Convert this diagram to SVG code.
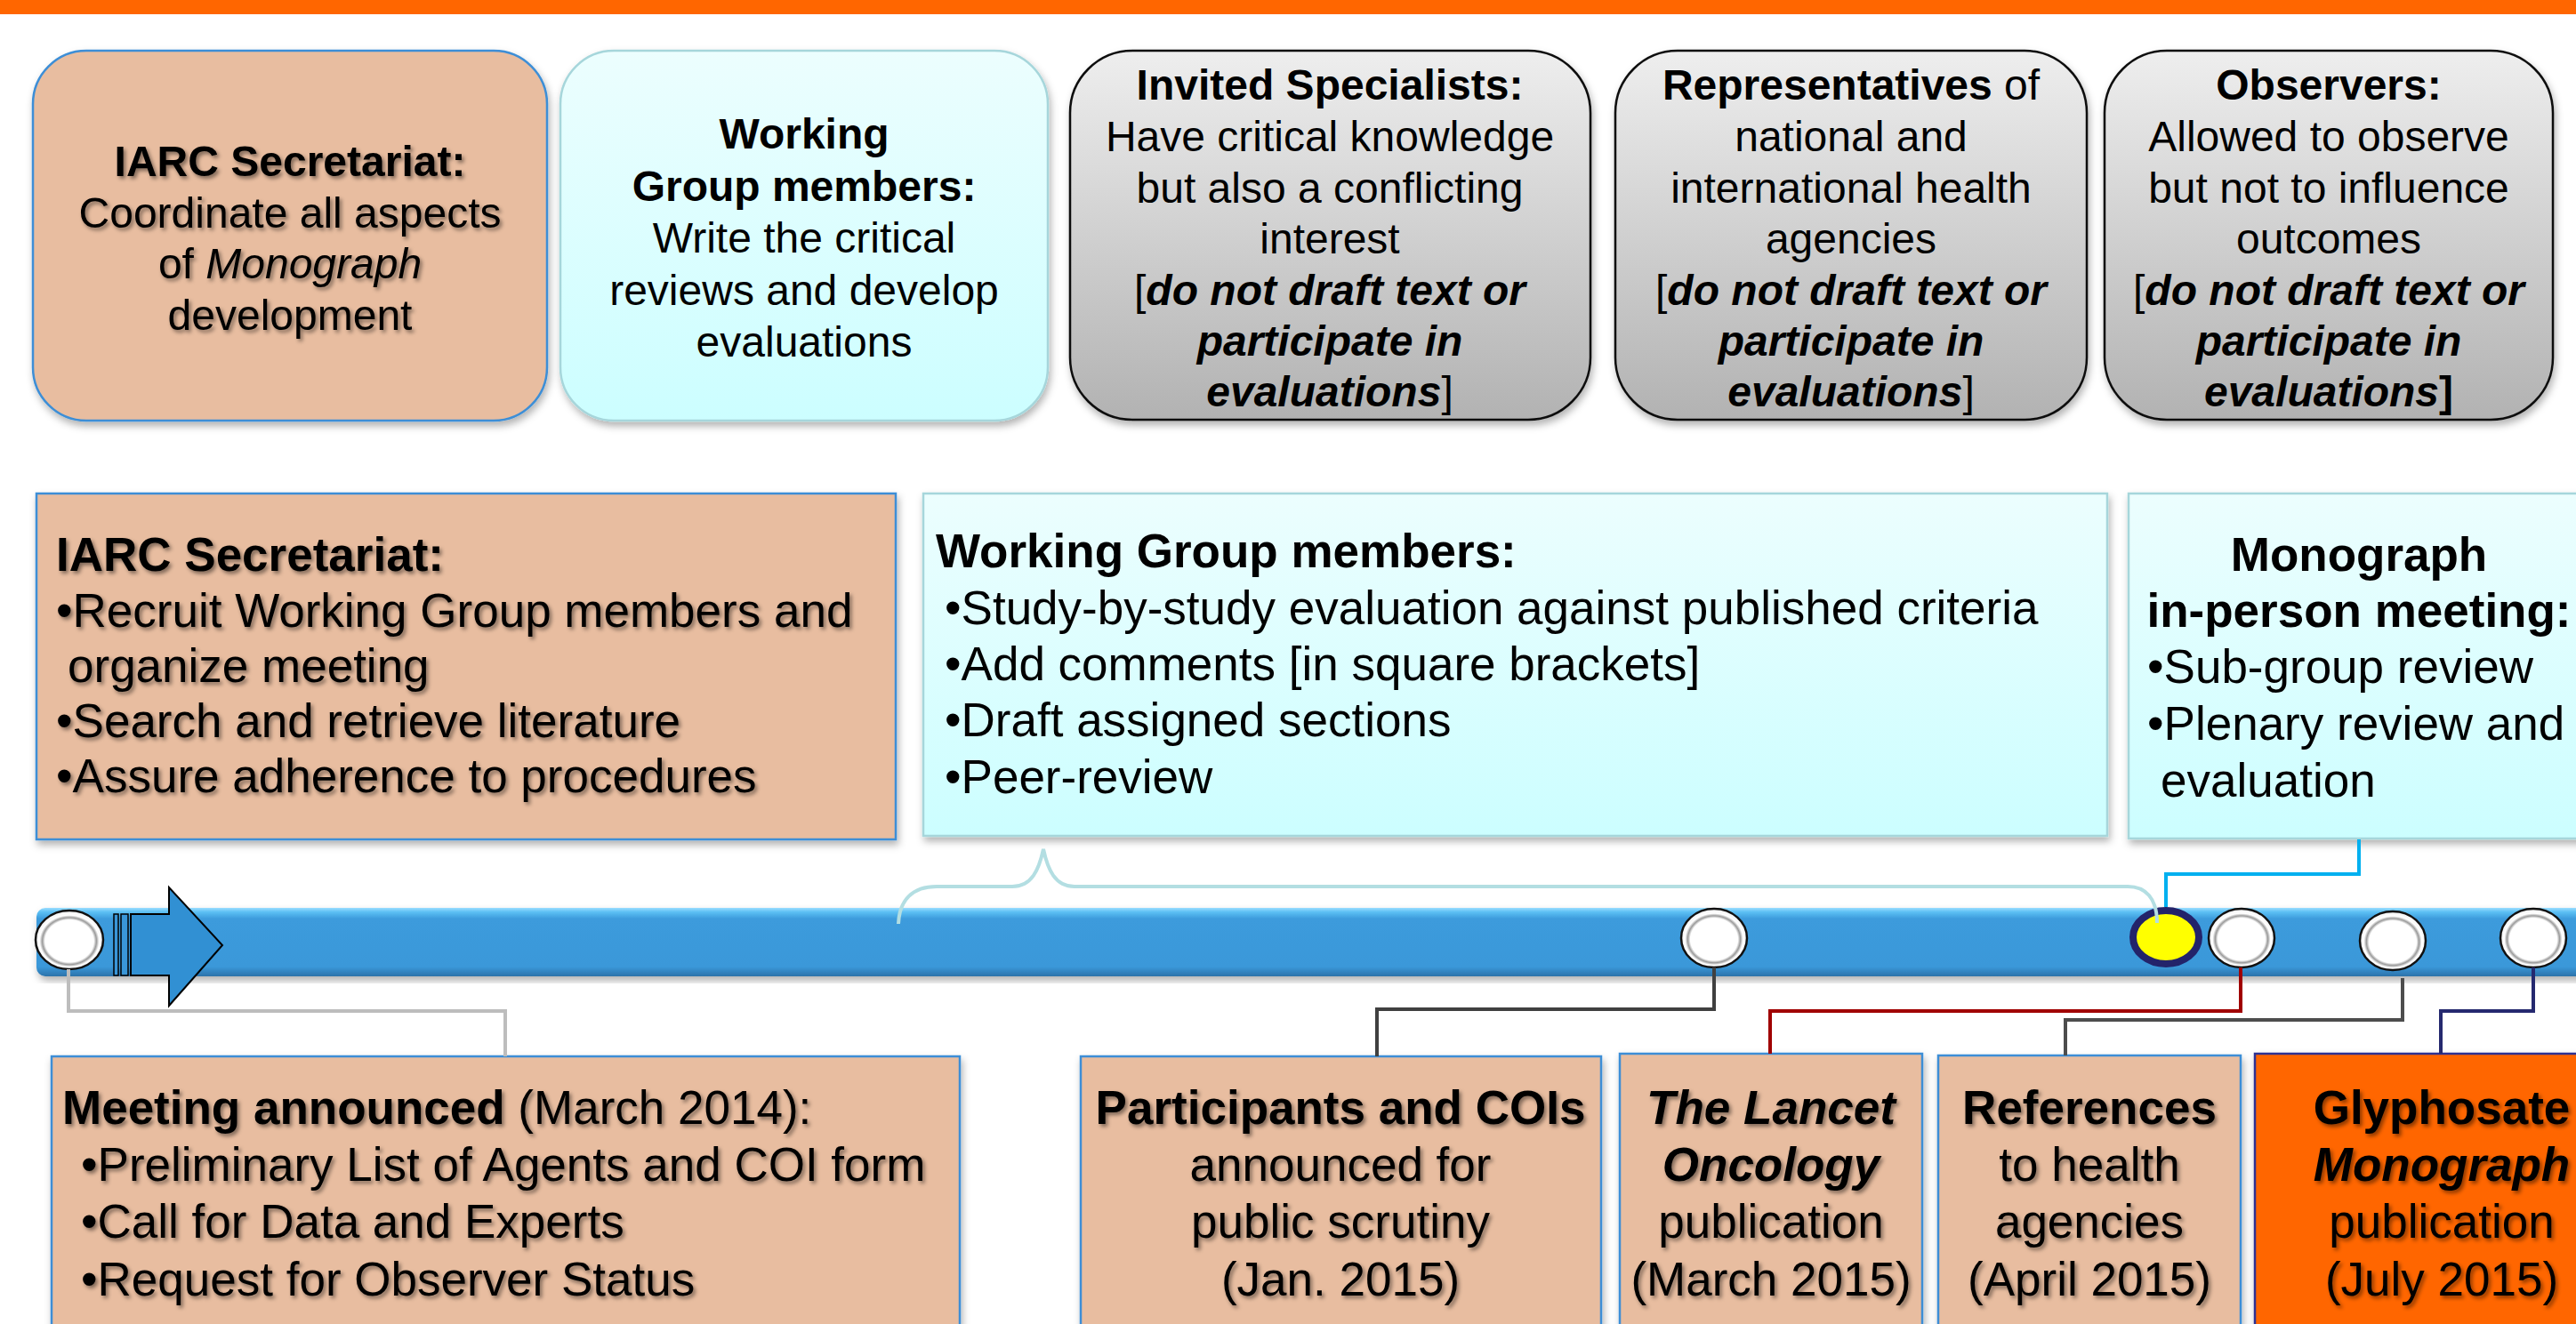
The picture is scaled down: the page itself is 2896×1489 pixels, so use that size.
<svg xmlns="http://www.w3.org/2000/svg" width="2896" height="1489" viewBox="0 0 2896 1489">
  <defs>
    <linearGradient id="cyan" x1="0" y1="0" x2="0" y2="1">
      <stop offset="0" stop-color="#ECFEFE"/>
      <stop offset="1" stop-color="#CCFEFF"/>
    </linearGradient>
    <linearGradient id="grey" x1="0" y1="0" x2="0" y2="1">
      <stop offset="0" stop-color="#EEEEEE"/>
      <stop offset="1" stop-color="#B2B2B2"/>
    </linearGradient>
    <linearGradient id="bar" x1="0" y1="0" x2="0" y2="1">
      <stop offset="0" stop-color="#9BDDFF"/>
      <stop offset="0.06" stop-color="#5CC0F4"/>
      <stop offset="0.16" stop-color="#3C9BDC"/>
      <stop offset="0.86" stop-color="#3A98D9"/>
      <stop offset="1" stop-color="#2C72AA"/>
    </linearGradient>
    <radialGradient id="disc" cx="0.5" cy="0.52" r="0.5">
      <stop offset="0" stop-color="#FFFFFF"/>
      <stop offset="0.72" stop-color="#FFFFFF"/>
      <stop offset="0.8" stop-color="#9A9A9A"/>
      <stop offset="0.88" stop-color="#FFFFFF"/>
      <stop offset="1" stop-color="#F4F4F4"/>
    </radialGradient>
    <filter id="boxShadow" x="-5%" y="-5%" width="110%" height="115%">
      <feDropShadow dx="2" dy="5" stdDeviation="4" flood-color="#000" flood-opacity="0.3"/>
    </filter>
    <filter id="textShadow" x="-5%" y="-20%" width="110%" height="140%">
      <feDropShadow dx="2.5" dy="3" stdDeviation="2" flood-color="#000" flood-opacity="0.45"/>
    </filter>
    <style>
      text { font-family: "Liberation Sans", Arial, sans-serif; fill: #000; }
      .t48 { font-size: 48px; }
      .t53 { font-size: 53px; }
      .b { font-weight: bold; }
      .i { font-style: italic; }
      .mid { text-anchor: middle; }
      .peach { fill: #E8BDA0; stroke: #3C8ED6; stroke-width: 2.5; }
      .cyanbox { fill: url(#cyan); stroke: #A6D6DB; stroke-width: 2.5; }
      .greybox { fill: url(#grey); stroke: #111; stroke-width: 2.5; }
      .orangebox { fill: #FF6600; stroke: #2E3192; stroke-width: 2.5; }
      .disc { fill: url(#disc); stroke: #111; stroke-width: 2.5; }
      .link { fill: none; stroke-width: 4; }
      .shadowed { filter: url(#textShadow); }
    </style>
  </defs>

  <!-- header band -->
  <rect x="0" y="0" width="2896" height="16" fill="#FF6600"/>

  <!-- roles: top row -->
  <g id="role-iarc">
    <rect class="peach" x="37" y="57" width="578" height="416" rx="60" filter="url(#boxShadow)"/>
    <g class="shadowed">
      <text class="t48 mid" x="326" y="198"><tspan class="b">IARC Secretariat:</tspan></text>
      <text class="t48 mid" x="326" y="256">Coordinate all aspects</text>
      <text class="t48 mid" x="326" y="313">of <tspan class="i">Monograph</tspan></text>
      <text class="t48 mid" x="326" y="371">development</text>
    </g>
  </g>
  <g id="role-working-group">
    <rect class="cyanbox" x="630" y="57" width="548" height="416" rx="60" filter="url(#boxShadow)"/>
    <text class="t48 mid b" x="904" y="167">Working</text>
    <text class="t48 mid b" x="904" y="226">Group members:</text>
    <text class="t48 mid" x="904" y="284">Write the critical</text>
    <text class="t48 mid" x="904" y="343">reviews and develop</text>
    <text class="t48 mid" x="904" y="401">evaluations</text>
  </g>
  <g id="role-specialists">
    <rect class="greybox" x="1203" y="57" width="585" height="415" rx="70" filter="url(#boxShadow)"/>
    <text class="t48 mid b" x="1495" y="112">Invited Specialists:</text>
    <text class="t48 mid" x="1495" y="170">Have critical knowledge</text>
    <text class="t48 mid" x="1495" y="228">but also a conflicting</text>
    <text class="t48 mid" x="1495" y="285">interest</text>
    <text class="t48 mid" x="1495" y="343">[<tspan class="b i">do not draft text or</tspan></text>
    <text class="t48 mid b i" x="1495" y="400">participate in</text>
    <text class="t48 mid" x="1495" y="457"><tspan class="b i">evaluations</tspan>]</text>
  </g>
  <g id="role-representatives">
    <rect class="greybox" x="1816" y="57" width="530" height="415" rx="70" filter="url(#boxShadow)"/>
    <text class="t48 mid" x="2081" y="112"><tspan class="b">Representatives</tspan> of</text>
    <text class="t48 mid" x="2081" y="170">national and</text>
    <text class="t48 mid" x="2081" y="228">international health</text>
    <text class="t48 mid" x="2081" y="285">agencies</text>
    <text class="t48 mid" x="2081" y="343">[<tspan class="b i">do not draft text or</tspan></text>
    <text class="t48 mid b i" x="2081" y="400">participate in</text>
    <text class="t48 mid" x="2081" y="457"><tspan class="b i">evaluations</tspan>]</text>
  </g>
  <g id="role-observers">
    <rect class="greybox" x="2366" y="57" width="504" height="415" rx="70" filter="url(#boxShadow)"/>
    <text class="t48 mid b" x="2618" y="112">Observers:</text>
    <text class="t48 mid" x="2618" y="170">Allowed to observe</text>
    <text class="t48 mid" x="2618" y="228">but not to influence</text>
    <text class="t48 mid" x="2618" y="285">outcomes</text>
    <text class="t48 mid" x="2618" y="343">[<tspan class="b i">do not draft text or</tspan></text>
    <text class="t48 mid b i" x="2618" y="400">participate in</text>
    <text class="t48 mid b" x="2618" y="457"><tspan class="i">evaluations</tspan>]</text>
  </g>

  <!-- phases: middle row -->
  <g id="phase-iarc">
    <rect class="peach" x="41" y="555" width="966" height="389" filter="url(#boxShadow)"/>
    <g class="shadowed">
      <text class="t53 b" x="63" y="642">IARC Secretariat:</text>
      <text class="t53" x="63" y="705">•Recruit Working Group members and</text>
      <text class="t53" x="76" y="767">organize meeting</text>
      <text class="t53" x="63" y="829">•Search and retrieve literature</text>
      <text class="t53" x="63" y="891">•Assure adherence to procedures</text>
    </g>
  </g>
  <g id="phase-working-group">
    <rect class="cyanbox" x="1038" y="555" width="1331" height="385" filter="url(#boxShadow)"/>
    <text class="t53 b" x="1052" y="638">Working Group members:</text>
    <text class="t53" x="1062" y="702">•Study-by-study evaluation against published criteria</text>
    <text class="t53" x="1062" y="765">•Add comments [in square brackets]</text>
    <text class="t53" x="1062" y="828">•Draft assigned sections</text>
    <text class="t53" x="1062" y="892">•Peer-review</text>
  </g>
  <g id="phase-meeting">
    <rect class="cyanbox" x="2393" y="555" width="540" height="388" filter="url(#boxShadow)"/>
    <text class="t53 mid b" x="2652" y="642">Monograph</text>
    <text class="t53 mid b" x="2652" y="705">in-person meeting:</text>
    <text class="t53" x="2414" y="768">•Sub-group review</text>
    <text class="t53" x="2414" y="832">•Plenary review and</text>
    <text class="t53" x="2429" y="896">evaluation</text>
  </g>

  <!-- timeline -->
  <g id="timeline">
    <rect x="41" y="1021" width="2900" height="77" rx="10" fill="url(#bar)" filter="url(#boxShadow)"/>
    <rect x="128" y="1028" width="5" height="69" fill="#3A96D8" stroke="#000" stroke-width="1.5"/>
    <rect x="136" y="1028" width="8" height="69" fill="#3A96D8" stroke="#000" stroke-width="1.5"/>
    <polygon points="147,1028 190,1028 190,998 250,1063 190,1131 190,1097 147,1097" fill="#3190D3" stroke="#000" stroke-width="2"/>
  </g>

  <!-- milestones on the timeline -->
  <g id="milestone-start"><ellipse class="disc" cx="78" cy="1057" rx="38" ry="33"/></g>
  <g id="milestone-jan2015"><ellipse class="disc" cx="1927" cy="1055" rx="37" ry="33"/></g>
  <g id="milestone-meeting"><ellipse cx="2435" cy="1054" rx="37" ry="30" fill="#FFFF00" stroke="#23236A" stroke-width="8"/></g>
  <g id="milestone-mar2015"><ellipse class="disc" cx="2520" cy="1055" rx="37" ry="33"/></g>
  <g id="milestone-apr2015"><ellipse class="disc" cx="2690" cy="1058" rx="37" ry="33"/></g>
  <g id="milestone-jul2015"><ellipse class="disc" cx="2848" cy="1055" rx="37" ry="33"/></g>

  <!-- events: bottom row -->
  <g id="event-announced">
    <rect class="peach" x="58" y="1188" width="1021" height="340" filter="url(#boxShadow)"/>
    <g class="shadowed">
      <text class="t53" x="70" y="1264"><tspan class="b">Meeting announced</tspan> (March 2014):</text>
      <text class="t53" x="91" y="1328">•Preliminary List of Agents and COI form</text>
      <text class="t53" x="91" y="1392">•Call for Data and Experts</text>
      <text class="t53" x="91" y="1457">•Request for Observer Status</text>
    </g>
  </g>
  <g id="event-participants">
    <rect class="peach" x="1215" y="1188" width="585" height="340" filter="url(#boxShadow)"/>
    <g class="shadowed">
      <text class="t53 mid b" x="1507" y="1264">Participants and COIs</text>
      <text class="t53 mid" x="1507" y="1328">announced for</text>
      <text class="t53 mid" x="1507" y="1392">public scrutiny</text>
      <text class="t53 mid" x="1507" y="1457">(Jan. 2015)</text>
    </g>
  </g>
  <g id="event-lancet">
    <rect class="peach" x="1821" y="1185" width="340" height="340" filter="url(#boxShadow)"/>
    <g class="shadowed">
      <text class="t53 mid b i" x="1991" y="1264">The Lancet</text>
      <text class="t53 mid b i" x="1991" y="1328">Oncology</text>
      <text class="t53 mid" x="1991" y="1392">publication</text>
      <text class="t53 mid" x="1991" y="1457">(March 2015)</text>
    </g>
  </g>
  <g id="event-references">
    <rect class="peach" x="2179" y="1187" width="340" height="340" filter="url(#boxShadow)"/>
    <g class="shadowed">
      <text class="t53 mid b" x="2349" y="1264">References</text>
      <text class="t53 mid" x="2349" y="1328">to health</text>
      <text class="t53 mid" x="2349" y="1392">agencies</text>
      <text class="t53 mid" x="2349" y="1457">(April 2015)</text>
    </g>
  </g>
  <g id="event-monograph">
    <rect class="orangebox" x="2535" y="1185" width="420" height="340" filter="url(#boxShadow)"/>
    <g class="shadowed">
      <text class="t53 mid b" x="2745" y="1264">Glyphosate</text>
      <text class="t53 mid b i" x="2745" y="1328">Monograph</text>
      <text class="t53 mid" x="2745" y="1392">publication</text>
      <text class="t53 mid" x="2745" y="1457">(July 2015)</text>
    </g>
  </g>

  <!-- connectors -->
  <g id="connectors">
    <path class="link" stroke="#BDBDBD" d="M77 1090 V1137 H568 V1188"/>
    <path class="link" stroke="#404040" d="M1927 1088 V1135 H1548 V1188"/>
    <path class="link" stroke="#A00000" d="M2519 1088 V1137 H1990 V1185"/>
    <path class="link" stroke="#4D4D4D" d="M2701 1100 V1147 H2322 V1187"/>
    <path class="link" stroke="#25296F" d="M2848 1088 V1137 H2744 V1185"/>
    <path class="link" stroke="#00B0F0" d="M2652 944 V983 H2435 V1020"/>
    <path class="link" stroke="#B3DEE2" stroke-width="5" d="M1010 1039 C1011 1012 1026 997 1053 997 H1138 C1160 997 1168 978 1173 955 C1178 978 1186 997 1208 997 H2392 C2412 997 2425 1010 2425 1038"/>
  </g>
</svg>
